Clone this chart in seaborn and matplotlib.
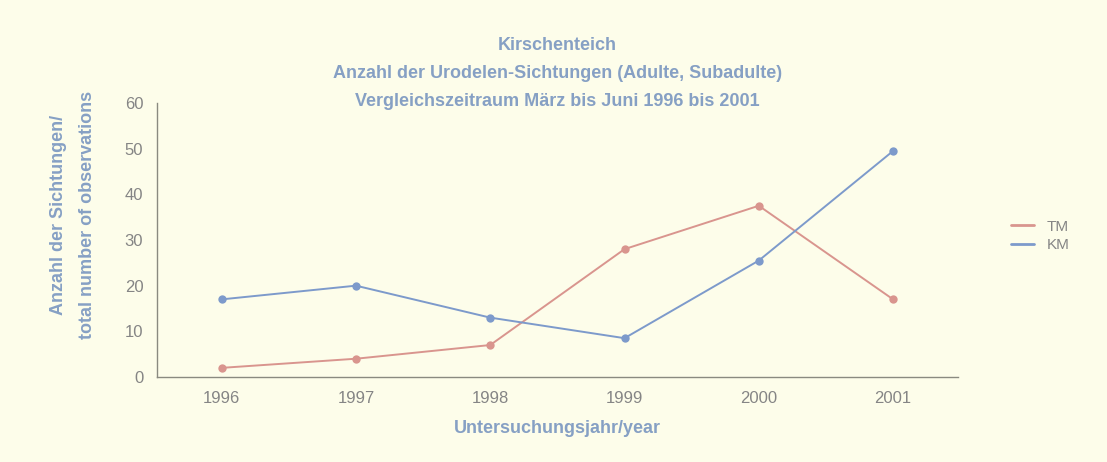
import pandas as pd
import matplotlib.pyplot as plt
import seaborn as sns

years = ["1996", "1997", "1998", "1999", "2000", "2001"]
tm = [2, 4, 7, 28, 37.5, 17]
km = [17, 20, 13, 8.5, 25.5, 49.5]

df = pd.DataFrame({
    "Jahr": years * 2,
    "Anzahl": tm + km,
    "Gruppe": ["TM"] * len(years) + ["KM"] * len(years),
})

bg = "#fdfdea"
txt = "#86a0c4"
tick_col = "#858585"

sns.set_theme(style="white")
plt.rcParams['font.family'] = ['Liberation Sans', 'DejaVu Sans']

fig = plt.figure(figsize=(11.07, 4.62), dpi=100, facecolor=bg)
ax = fig.add_axes([0.142, 0.184, 0.723, 0.593])
ax.set_facecolor(bg)

sns.lineplot(data=df, x="Jahr", y="Anzahl", hue="Gruppe",
             palette={"TM": "#d9958e", "KM": "#7d9acb"},
             marker="o", markersize=6, markeredgewidth=0,
             linewidth=1.4, ax=ax)

ax.set_ylim(0, 60)
ax.set_xlim(-0.48, 5.48)
ax.set_yticks(range(0, 61, 10))
ax.tick_params(axis="both", length=0, labelsize=12, labelcolor=tick_col, pad=10)
for s in ["top", "right"]:
    ax.spines[s].set_visible(False)
for s in ["left", "bottom"]:
    ax.spines[s].set_color("#8a8a80")
    ax.spines[s].set_linewidth(1.0)

ax.set_xlabel("Untersuchungsjahr/year", fontsize=13, color=txt,
              fontweight="bold", labelpad=10)
ax.set_ylabel("Anzahl der Sichtungen/\ntotal number of observations",
              fontsize=13, color=txt, fontweight="bold", linespacing=1.9)
ax.yaxis.set_label_coords(-0.077, 0.59)

ax.set_title("Kirschenteich\nAnzahl der Urodelen-Sichtungen (Adulte, Subadulte)\n"
             "Vergleichszeitraum März bis Juni 1996 bis 2001",
             fontsize=13, color=txt, fontweight="bold", linespacing=1.85, pad=-2)

leg = ax.legend(loc="center left", bbox_to_anchor=(1.05, 0.515), frameon=False,
                fontsize=11, handlelength=1.5, handletextpad=0.8, labelspacing=0.3)
for t in leg.get_texts():
    t.set_color(tick_col)
for h in leg.get_lines():
    h.set_marker("")
    h.set_linewidth(2)

fig.savefig("out.png", dpi=100, facecolor=bg)
